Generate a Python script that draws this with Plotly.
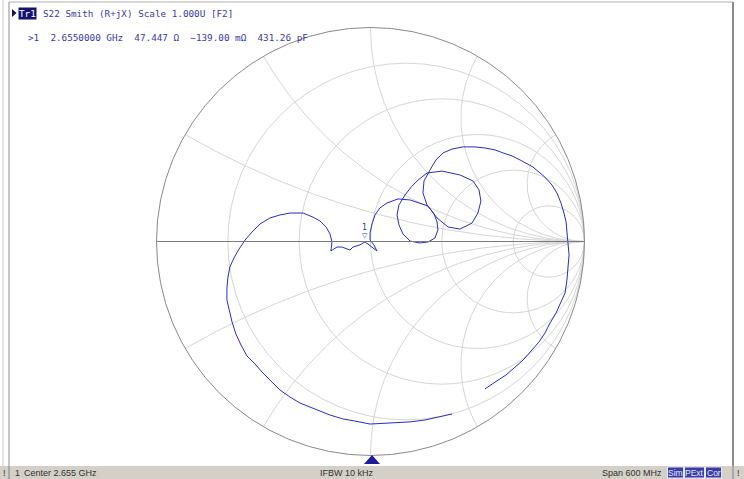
import numpy as np
import plotly.graph_objects as go

# ---- data: reflection coefficient (S22) samples ----
gamma_re = [0.381, 0.325, 0.255, 0.185, 0.114, 0.044, -0.002, -0.072, -0.129, -0.189,
            -0.236, -0.283, -0.329, -0.376, -0.423, -0.470, -0.507, -0.540, -0.577, -0.605,
            -0.629, -0.647, -0.661, -0.671, -0.671, -0.666, -0.657, -0.638, -0.614, -0.586,
            -0.554, -0.516, -0.470, -0.423, -0.376, -0.315, -0.269, -0.236, -0.208, -0.189,
            -0.180, -0.185, -0.171, -0.157, -0.133, -0.110, -0.096, -0.082, -0.063, -0.049,
            -0.035, -0.026, -0.012, 0.007, 0.021, 0.030, 0.016, -0.002, -0.002, 0.007,
            0.021, 0.044, 0.077, 0.129, 0.185, 0.231, 0.269, 0.297, 0.311, 0.315,
            0.301, 0.269, 0.231, 0.185, 0.152, 0.133, 0.124, 0.133, 0.161, 0.194,
            0.222, 0.264, 0.334, 0.418, 0.479, 0.507, 0.516, 0.502, 0.474, 0.418,
            0.362, 0.311, 0.264, 0.245, 0.250, 0.278, 0.306, 0.339, 0.381, 0.432,
            0.488, 0.535, 0.582, 0.619, 0.661, 0.699, 0.759, 0.815, 0.848, 0.871,
            0.890, 0.904, 0.914, 0.918, 0.923, 0.928, 0.923, 0.918, 0.909, 0.890,
            0.867, 0.839, 0.815, 0.787, 0.750, 0.713, 0.671, 0.633, 0.582, 0.535]
gamma_im = [-0.806, -0.820, -0.834, -0.843, -0.848, -0.853, -0.853, -0.839, -0.829, -0.811,
            -0.792, -0.773, -0.755, -0.727, -0.694, -0.647, -0.610, -0.572, -0.535, -0.484,
            -0.432, -0.376, -0.320, -0.273, -0.217, -0.166, -0.119, -0.077, -0.035, 0.007,
            0.044, 0.082, 0.110, 0.124, 0.133, 0.133, 0.114, 0.096, 0.068, 0.035,
            -0.002, -0.044, -0.035, -0.026, -0.026, -0.035, -0.040, -0.026, -0.021, -0.016,
            -0.007, -0.002, -0.012, -0.026, -0.035, -0.044, -0.016, 0.007, 0.040, 0.082,
            0.124, 0.157, 0.180, 0.199, 0.194, 0.180, 0.166, 0.129, 0.091, 0.054,
            0.016, -0.002, -0.007, 0.002, 0.035, 0.077, 0.124, 0.171, 0.217, 0.259,
            0.287, 0.320, 0.329, 0.311, 0.283, 0.241, 0.189, 0.133, 0.086, 0.058,
            0.068, 0.110, 0.171, 0.227, 0.283, 0.334, 0.381, 0.414, 0.432, 0.442,
            0.442, 0.437, 0.428, 0.414, 0.400, 0.381, 0.348, 0.301, 0.264, 0.227,
            0.180, 0.133, 0.091, 0.044, -0.007, -0.063, -0.119, -0.180, -0.241, -0.287,
            -0.334, -0.381, -0.428, -0.470, -0.512, -0.554, -0.591, -0.624, -0.657, -0.689]
marker_index = 51            # marker 1 (2.655 GHz)
r_grid = [0.2, 0.5, 1, 2, 5]                   # constant-resistance circles
x_grid = [0.268, 0.577, 1, 1.732, 3.732]       # constant-reactance arcs (+/-)

header_text = "S22 Smith (R+jX) Scale 1.000U [F2]"
readout_text = ">1  2.6550000 GHz  47.447 Ω  −139.00 mΩ  431.26 pF"
status_left = "Center 2.655 GHz"
status_mid = "IFBW 10 kHz"
status_right = "Span 600 MHz"
status_flags = ["Sim", "PExt", "Cor"]

# ---- figure geometry ----
W, H = 744, 479
CX, CY, RAD = 370.5, 241.5, 214.0   # chart centre / radius in pixels
xr = [(0 - CX) / RAD, (W - CX) / RAD]
yr = [(CY - H) / RAD, (CY - 0) / RAD]

def px(x):
    return x / W

def py(y):
    return 1 - y / H

GRID = "#d6d6d6"
EDGE = "#8a8a8a"
BLUE = "#2c2cc4"
TXT = "#3a3aa8"

fig = go.Figure()
shapes = []

# resistance circles
for r in r_grid:
    c = r / (1 + r)
    rad = 1 / (1 + r)
    shapes.append(dict(type="circle", xref="x", yref="y", x0=c - rad, x1=c + rad,
                       y0=-rad, y1=rad, line=dict(color=GRID, width=1), layer="below"))

# reactance arcs
for xv in x_grid:
    R = 1 / xv
    P = ((xv**2 - 1) / (xv**2 + 1), 2 * xv / (xv**2 + 1))
    t0 = np.arctan2(P[1] - R, P[0] - 1) % (2 * np.pi)
    t = np.linspace(t0, 1.5 * np.pi, 200)
    ax = 1 + R * np.cos(t)
    ay = R + R * np.sin(t)
    for s in (1, -1):
        fig.add_trace(go.Scatter(x=ax, y=s * ay, mode="lines", hoverinfo="skip",
                                 line=dict(color=GRID, width=1), showlegend=False))

# outer circle and real axis
shapes.append(dict(type="circle", xref="x", yref="y", x0=-1, x1=1, y0=-1, y1=1,
                   line=dict(color=EDGE, width=1)))
shapes.append(dict(type="line", xref="x", yref="y", x0=-1, x1=1, y0=0, y1=0,
                   line=dict(color="#7a7a7a", width=1)))

# trace
fig.add_trace(go.Scatter(x=gamma_re, y=gamma_im, mode="lines",
                         line=dict(color=BLUE, width=1), showlegend=False,
                         hoverinfo="skip"))

annotations = []
mx, my = gamma_re[marker_index], gamma_im[marker_index]
annotations.append(dict(x=mx, y=my, xref="x", yref="y", text="▽", showarrow=False,
                        yshift=6, font=dict(family="DejaVu Sans", size=7, color=TXT)))
annotations.append(dict(x=mx, y=my, xref="x", yref="y", text="1", showarrow=False,
                        yshift=14, font=dict(family="DejaVu Sans", size=8, color=TXT)))

# frame decorations
shapes += [
    dict(type="line", xref="paper", yref="paper", x0=px(3), x1=px(3), y0=py(0), y1=py(466),
         line=dict(color="#c8c8c8", width=1)),
    dict(type="line", xref="paper", yref="paper", x0=px(9), x1=px(9), y0=py(2), y1=py(466),
         line=dict(color="#8c8c8c", width=1)),
    dict(type="line", xref="paper", yref="paper", x0=px(9), x1=px(733), y0=py(2), y1=py(2),
         line=dict(color="#b0b0b0", width=1)),
    dict(type="line", xref="paper", yref="paper", x0=px(733), x1=px(733), y0=py(2), y1=py(466),
         line=dict(color="#8c8c8c", width=2)),
    dict(type="rect", xref="paper", yref="paper", x0=0, x1=1, y0=0, y1=py(466),
         line=dict(width=0), fillcolor="#d4d0c8"),
    dict(type="line", xref="paper", yref="paper", x0=px(9), x1=px(9), y0=0, y1=py(466),
         line=dict(color="#808080", width=1)),
    dict(type="line", xref="paper", yref="paper", x0=px(733), x1=px(733), y0=0, y1=py(466),
         line=dict(color="#808080", width=1)),
    # stimulus triangle under the chart
    dict(type="path", xref="paper", yref="paper",
         path=f"M {px(364)} {py(464)} L {px(380)} {py(464)} L {px(372)} {py(455)} Z",
         fillcolor="#1c1c9c", line=dict(width=0)),
    # trace selector triangle
    dict(type="path", xref="paper", yref="paper",
         path=f"M {px(12)} {py(9)} L {px(12)} {py(17)} L {px(16.5)} {py(13)} Z",
         fillcolor="#101060", line=dict(width=0)),
]

mono = "DejaVu Sans Mono"
annotations += [
    dict(x=px(18), y=py(13), xref="paper", yref="paper", text="Tr1", showarrow=False,
         xanchor="left", yanchor="middle", bgcolor="#14146e", borderpad=0,
         font=dict(family=mono, size=9.3, color="white")),
    dict(x=px(41), y=py(13), xref="paper", yref="paper", text=header_text, showarrow=False,
         xanchor="left", yanchor="middle", font=dict(family=mono, size=9.3, color=TXT)),
    dict(x=px(26), y=py(37), xref="paper", yref="paper", text=readout_text.replace(" ", "&nbsp;"),
         showarrow=False, xanchor="left", yanchor="middle",
         font=dict(family=mono, size=9.3, color=TXT)),
]

sb_font = dict(family="Liberation Sans", size=9, color="#303030")
annotations += [
    dict(x=px(4), y=py(472.5), xref="paper", yref="paper", text="!", showarrow=False,
         xanchor="center", yanchor="middle", font=sb_font),
    dict(x=px(13), y=py(472.5), xref="paper", yref="paper", text="1", showarrow=False,
         xanchor="left", yanchor="middle", font=sb_font),
    dict(x=px(22), y=py(472.5), xref="paper", yref="paper", text=status_left, showarrow=False,
         xanchor="left", yanchor="middle", font=sb_font),
    dict(x=px(347), y=py(472.5), xref="paper", yref="paper", text=status_mid, showarrow=False,
         xanchor="center", yanchor="middle", font=sb_font),
    dict(x=px(664), y=py(472.5), xref="paper", yref="paper", text=status_right, showarrow=False,
         xanchor="right", yanchor="middle", font=sb_font),
    dict(x=px(738), y=py(472.5), xref="paper", yref="paper", text="!", showarrow=False,
         xanchor="center", yanchor="middle", font=sb_font),
]
flag_edges = [667, 684, 705, 722]
for i, name in enumerate(status_flags):
    x0, x1 = flag_edges[i], flag_edges[i + 1]
    shapes.append(dict(type="rect", xref="paper", yref="paper", x0=px(x0 + 0.5), x1=px(x1 - 0.5),
                       y0=py(478), y1=py(467), fillcolor="#3c3ca6",
                       line=dict(color="#e8e8f0", width=1)))
    annotations.append(dict(x=px((x0 + x1) / 2), y=py(472.5), xref="paper", yref="paper",
                            text=name, showarrow=False, xanchor="center", yanchor="middle",
                            font=dict(family="Liberation Sans Narrow, Liberation Sans",
                                      size=8.5, color="#e8e8ff")))

fig.update_layout(
    width=W, height=H, margin=dict(l=0, r=0, t=0, b=0),
    paper_bgcolor="white", plot_bgcolor="white",
    xaxis=dict(range=xr, visible=False, fixedrange=True),
    yaxis=dict(range=yr, visible=False, fixedrange=True),
    shapes=shapes, annotations=annotations, showlegend=False,
)

fig.write_html("out.html", config={"displayModeBar": False, "staticPlot": True},
               post_script="document.body.style.margin='0px';"
                           "document.body.style.overflow='hidden';")
